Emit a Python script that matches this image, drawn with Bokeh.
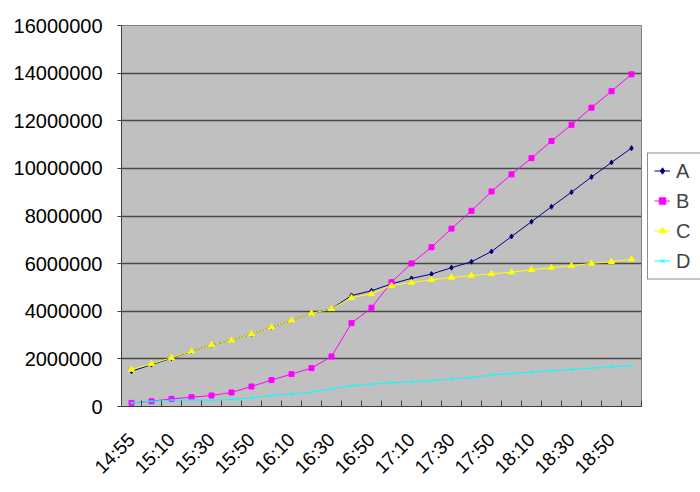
from bokeh.plotting import figure
from bokeh.models import FixedTicker, Legend, LegendItem, NumeralTickFormatter, Range1d
from bokeh.embed import file_html
from bokeh.resources import INLINE

times = ["14:55", "15:00", "15:10", "15:20", "15:30", "15:40", "15:50", "16:00",
         "16:10", "16:20", "16:30", "16:40", "16:50", "17:00", "17:10", "17:20",
         "17:30", "17:40", "17:50", "18:00", "18:10", "18:20", "18:30", "18:40",
         "18:50", "19:00"]

A = [1480000, 1760000, 2030000, 2320000, 2590000, 2770000, 3050000, 3330000,
     3610000, 3910000, 4100000, 4660000, 4860000, 5150000, 5380000, 5560000,
     5830000, 6080000, 6510000, 7140000, 7760000, 8390000, 9000000, 9640000,
     10250000, 10850000]
B = [150000, 220000, 320000, 390000, 460000, 590000, 840000, 1110000,
     1360000, 1610000, 2100000, 3500000, 4150000, 5220000, 6010000, 6690000,
     7470000, 8220000, 9030000, 9750000, 10430000, 11150000, 11830000, 12550000,
     13240000, 13950000]
C = [1550000, 1790000, 2050000, 2320000, 2590000, 2770000, 3050000, 3330000,
     3610000, 3910000, 4100000, 4570000, 4730000, 5080000, 5210000, 5320000,
     5420000, 5500000, 5570000, 5640000, 5740000, 5830000, 5910000, 6010000,
     6080000, 6180000]
D = [150000, 220000, 270000, 270000, 270000, 290000, 370000, 460000,
     520000, 600000, 740000, 870000, 940000, 1000000, 1040000, 1090000,
     1150000, 1220000, 1320000, 1390000, 1440000, 1500000, 1550000, 1610000,
     1670000, 1720000]

names = ["A", "B", "C", "D"]
series = [A, B, C, D]
colors = ["#000080", "#FF00FF", "#FFFF00", "#00FFFF"]
markers = ["diamond", "square", "triangle", "x"]
msizes = [5, 5, 6, 4]

x = list(range(len(times)))

FONT = "Liberation Sans"

p = figure(frame_width=520, frame_height=381, output_backend="svg", toolbar_location=None,
           x_range=Range1d(-0.5, len(times) - 0.5), y_range=Range1d(0, 16000000),
           min_border_left=121, min_border_top=25, min_border_bottom=80,
           min_border_right=0)
p.background_fill_color = "#C0C0C0"
p.border_fill_color = "white"
p.outline_line_color = "#808080"
p.outline_line_width = 1

# grid
p.xgrid.grid_line_color = None
p.ygrid.grid_line_color = "#484848"
p.ygrid.grid_line_width = 1.4
p.ygrid.ticker = FixedTicker(ticks=list(range(0, 16000001, 2000000)))

# y axis
p.yaxis.ticker = FixedTicker(ticks=list(range(0, 16000001, 2000000)))
p.yaxis.formatter = NumeralTickFormatter(format="0")
p.yaxis.major_label_text_font = FONT
p.yaxis.major_label_text_font_size = "20px"
p.yaxis.major_label_text_color = "black"
p.yaxis.major_tick_in = 0
p.yaxis.major_tick_out = 4
p.yaxis.minor_tick_line_color = None
p.yaxis.major_label_standoff = 15
p.yaxis.axis_line_color = "#404040"
p.yaxis.major_tick_line_color = "#404040"

# x axis: labels at every other category, ticks at category boundaries
label_idx = list(range(0, len(times), 2))
p.xaxis.ticker = FixedTicker(ticks=label_idx,
                             minor_ticks=[i - 0.5 for i in range(len(times) + 1)])
p.xaxis.major_label_overrides = {i: times[i] for i in label_idx}
p.xaxis.major_label_orientation = 0.785398
p.xaxis.major_label_text_font = FONT
p.xaxis.major_label_text_font_size = "19px"
p.xaxis.major_label_text_color = "black"
p.xaxis.major_tick_in = 0
p.xaxis.major_tick_out = 0
p.xaxis.minor_tick_in = 6
p.xaxis.minor_tick_out = 0
p.xaxis.minor_tick_line_color = "#404040"
p.xaxis.major_label_standoff = 30
p.xaxis.axis_line_color = "#404040"

items = []
for name, ys, col, mk, ms in zip(names, series, colors, markers, msizes):
    l = p.line(x, ys, line_color=col, line_width=1)
    s = p.scatter(x, ys, marker=mk, size=ms, fill_color=col, line_color=col)
    items.append(LegendItem(label=name, renderers=[l, s]))

legend = Legend(items=items, location="center_left", orientation="vertical")
legend.label_text_font = FONT
legend.label_text_font_size = "20px"
legend.border_line_color = "#202020"
legend.border_line_width = 1
legend.background_fill_color = "white"
legend.glyph_width = 16
legend.glyph_height = 20
legend.label_height = 20
legend.label_standoff = 6
legend.spacing = 7
legend.padding = 6
legend.margin = 6
p.add_layout(legend, "right")

open("out.html", "w").write(file_html(p, INLINE))
